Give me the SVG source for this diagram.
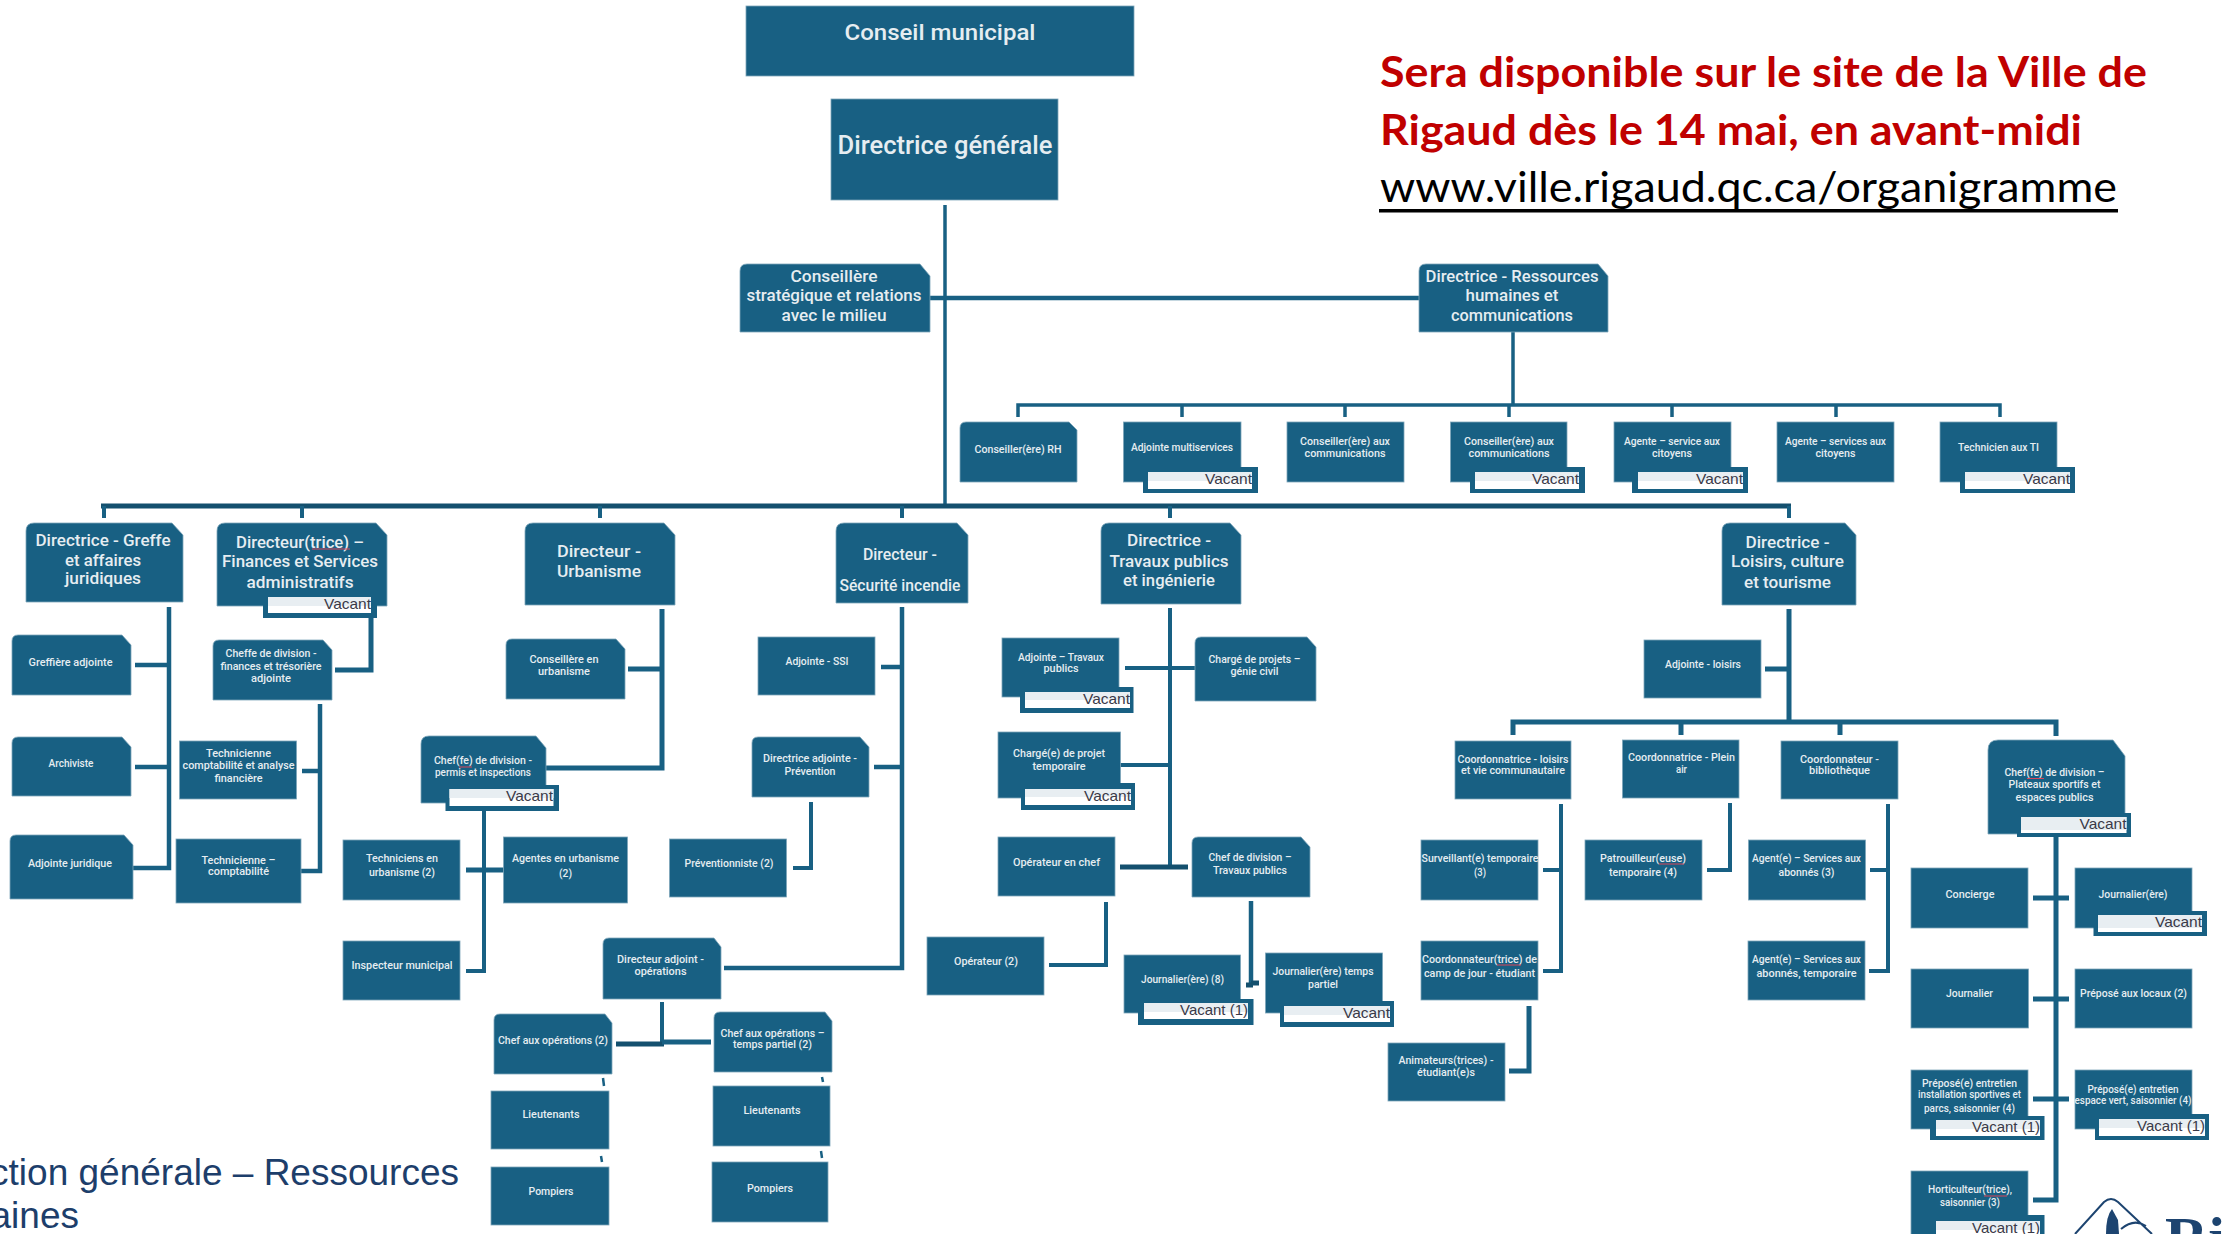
<svg xmlns="http://www.w3.org/2000/svg" width="2224" height="1234" viewBox="0 0 2224 1234">
<style>
.n{fill:#186083;stroke:#7ea6ba;stroke-width:.8}
.b{fill:#186083}
.w{fill:#fff}
.p{fill:#e8eef2}
.c{fill:none;stroke:#186083;stroke-width:5}
.d{fill:none;stroke:#14506e;stroke-width:5}
.f{fill:none;stroke:#186083;stroke-width:3.5}
.q{fill:none;stroke:#d8455a;stroke-width:1}
text{font-family:"Roboto","Liberation Sans",sans-serif;text-anchor:middle;fill:#e6edf1;font-weight:500}
.s{font-size:11px}
.m{font-size:17px}
.l{font-size:22px}
.x{font-size:25px}
.v{font-family:"Liberation Sans",Arial,sans-serif;font-size:15px;font-weight:400;fill:#3a3a48;text-anchor:end}
.r{font-family:"Lato","Open Sans",sans-serif;font-size:42px;font-weight:700;fill:#c00000;text-anchor:start}
.u{font-family:"Lato","Open Sans",sans-serif;font-size:42px;font-weight:400;fill:#000;text-anchor:start}
.g{font-family:"Liberation Sans",Arial,sans-serif;font-size:37px;font-weight:400;fill:#1d3e6b;text-anchor:end}
.o{fill:none;stroke:#1d4470;stroke-width:2}
</style>
<rect width="2224" height="1234" fill="#fff"/>

<g id="connectors">
<path class="f" d="M945 205V506"/>
<path class="c" d="M930 298H1419" style="stroke-width:4.5"/>
<path class="f" d="M1513 332V405"/>
<path class="f" d="M1018 417V405H2000V417M1182 405V417M1345 405V417M1509 405V417M1672 405V417M1836 405V417"/>
<path class="d" d="M101 506H1791"/>
<path class="c" d="M104 506V518M302 506V518M600 506V518M902 506V518M1170 506V518M1789 506V518" style="stroke-width:4"/>
<path class="c" d="M169 607V868H133M135 665H169M135 767H169" style="stroke-width:4.5"/>
<path class="c" d="M371 618V670H335"/>
<path class="c" d="M320 704V871H301M302 771H320" style="stroke-width:4.5"/>
<path class="c" d="M662 609V768H546M628 669H662"/>
<path class="f" d="M484 811V971H466" style="stroke-width:4"/>
<path class="c" d="M466 870H504"/>
<path class="c" d="M902 607V968H724M881 667H902M874 767H902" style="stroke-width:4.5"/>
<path class="f" d="M811 802V868H793" style="stroke-width:4"/>
<path class="c" d="M1170 608V865M1125 668H1195M1120 765H1170" style="stroke-width:4"/>
<path class="d" d="M1120 867H1188"/>
<path class="c" d="M1106 902V965H1049" style="stroke-width:4"/>
<path class="c" d="M1251 901V983" style="stroke-width:4.5"/>
<path class="d" d="M1246 985H1253M1251 983H1259"/>
<path class="c" d="M1789 609V722M1765 669H1789" style="stroke-width:5"/>
<path class="c" d="M1513 735V722H2056V736M1681 722V735M1840 722V735"/>
<path class="c" d="M1561 804V971H1543M1543 870H1561" style="stroke-width:4"/>
<path class="c" d="M1730 803V870H1707" style="stroke-width:4"/>
<path class="c" d="M1888 804V971H1869M1870 870H1888" style="stroke-width:4"/>
<path class="c" d="M1529 1006V1071H1509"/>
<path class="c" d="M2056 837V1200H2033M2033 898H2069M2033 999H2069M2033 1099H2069"/>
<path class="c" d="M662 1002V1042" style="stroke-width:4"/>
<path class="d" d="M616 1044H664"/>
<path class="c" d="M662 1042H711"/>
<path class="c" d="M603 1078L604 1086M601 1156L602 1162M822 1077L823 1082M821 1151L822 1158" style="stroke-width:2.5"/>
</g>

<g id="conseil-municipal"><rect class="n" x="746" y="6" width="388" height="70"/><text class="l" x="940" y="39.5" textLength="191" lengthAdjust="spacingAndGlyphs">Conseil municipal</text></g>
<g id="directrice-generale"><rect class="n" x="831" y="99" width="227" height="101"/><text class="x" x="945" y="154" textLength="215" lengthAdjust="spacingAndGlyphs">Directrice générale</text></g>
<g id="conseillere-strategique"><path class="n" d="M740 332V271Q740 264 747 264H920L930 276V332Z"/>
<text class="m" x="834" y="281.5" textLength="87" lengthAdjust="spacingAndGlyphs">Conseillère</text>
<text class="m" x="834" y="300.5" textLength="175" lengthAdjust="spacingAndGlyphs">stratégique et relations</text>
<text class="m" x="834" y="320.5" textLength="105" lengthAdjust="spacingAndGlyphs">avec le milieu</text></g>
<g id="directrice-rh"><path class="n" d="M1419 332V271Q1419 264 1426 264H1598L1608 276V332Z"/>
<text class="m" x="1512" y="281.5" textLength="173" lengthAdjust="spacingAndGlyphs">Directrice - Ressources</text>
<text class="m" x="1512" y="300.5" textLength="93" lengthAdjust="spacingAndGlyphs">humaines et</text>
<text class="m" x="1512" y="320.5" textLength="122" lengthAdjust="spacingAndGlyphs">communications</text></g>

<g id="conseiller-rh"><path class="n" d="M960 482V428Q960 422 966 422H1069L1077 430V482Z"/><text class="s" x="1018" y="452.5" textLength="87" lengthAdjust="spacingAndGlyphs">Conseiller(ère) RH</text></g>
<g id="adjointe-multiservices"><rect class="n" x="1123.5" y="422" width="117.5" height="60"/><text class="s" x="1182" y="451" textLength="102" lengthAdjust="spacingAndGlyphs">Adjointe multiservices</text>
<rect class="b" x="1143" y="467" width="115" height="26"/><rect class="w" x="1148" y="472" width="104" height="17"/><rect class="p" x="1148" y="472" width="104" height="9"/><text class="v" x="1252" y="484" textLength="47" lengthAdjust="spacingAndGlyphs">Vacant</text></g>
<g id="conseiller-comm-1"><rect class="n" x="1287" y="422" width="117" height="60"/><text class="s" x="1345" y="445" textLength="90" lengthAdjust="spacingAndGlyphs">Conseiller(ère) aux</text><text class="s" x="1345" y="456.5" textLength="81" lengthAdjust="spacingAndGlyphs">communications</text></g>
<g id="conseiller-comm-2"><rect class="n" x="1450.5" y="422" width="116.5" height="60"/><text class="s" x="1509" y="445" textLength="90" lengthAdjust="spacingAndGlyphs">Conseiller(ère) aux</text><text class="s" x="1509" y="456.5" textLength="81" lengthAdjust="spacingAndGlyphs">communications</text>
<rect class="b" x="1470" y="467" width="115" height="26"/><rect class="w" x="1475" y="472" width="104" height="17"/><rect class="p" x="1475" y="472" width="104" height="9"/><text class="v" x="1579" y="484" textLength="47" lengthAdjust="spacingAndGlyphs">Vacant</text></g>
<g id="agente-service"><rect class="n" x="1614" y="422" width="117" height="60"/><text class="s" x="1672" y="445" textLength="96" lengthAdjust="spacingAndGlyphs">Agente – service aux</text><text class="s" x="1672" y="456.5" textLength="40" lengthAdjust="spacingAndGlyphs">citoyens</text>
<rect class="b" x="1632" y="467" width="116" height="26"/><rect class="w" x="1638" y="472" width="105" height="17"/><rect class="p" x="1638" y="472" width="105" height="9"/><text class="v" x="1743" y="484" textLength="47" lengthAdjust="spacingAndGlyphs">Vacant</text></g>
<g id="agente-services"><rect class="n" x="1777" y="422" width="117" height="60"/><text class="s" x="1835.5" y="445" textLength="101" lengthAdjust="spacingAndGlyphs">Agente – services aux</text><text class="s" x="1835.5" y="456.5" textLength="40" lengthAdjust="spacingAndGlyphs">citoyens</text></g>
<g id="technicien-ti"><rect class="n" x="1940" y="422" width="117" height="60"/><text class="s" x="1998.5" y="451" textLength="81" lengthAdjust="spacingAndGlyphs">Technicien aux TI</text>
<rect class="b" x="1960" y="467" width="115" height="26"/><rect class="w" x="1965" y="472" width="105" height="17"/><rect class="p" x="1965" y="472" width="105" height="9"/><text class="v" x="2070" y="484" textLength="47" lengthAdjust="spacingAndGlyphs">Vacant</text></g>

<g id="directrice-greffe"><path class="n" d="M26 602V531Q26 523 34 523H172L183 535V602Z"/>
<text class="m" x="103" y="546" textLength="135" lengthAdjust="spacingAndGlyphs">Directrice - Greffe</text>
<text class="m" x="103" y="565.5" textLength="76" lengthAdjust="spacingAndGlyphs">et affaires</text>
<text class="m" x="103" y="584" textLength="76" lengthAdjust="spacingAndGlyphs">juridiques</text></g>
<g id="directeur-finances"><path class="n" d="M217 606V531Q217 523 225 523H376L387 535V606Z"/>
<text class="m" x="300" y="547.5" textLength="128" lengthAdjust="spacingAndGlyphs">Directeur(trice) –</text>
<text class="m" x="300" y="567" textLength="156" lengthAdjust="spacingAndGlyphs">Finances et Services</text>
<text class="m" x="300" y="587.5" textLength="107" lengthAdjust="spacingAndGlyphs">administratifs</text>
<path class="q" d="M312 549H350"/>
<rect class="b" x="263" y="597" width="114" height="21"/><rect class="w" x="268" y="597" width="103" height="16"/><rect class="p" x="268" y="597" width="103" height="9"/><text class="v" x="371" y="609" textLength="47" lengthAdjust="spacingAndGlyphs">Vacant</text></g>
<g id="directeur-urbanisme"><path class="n" d="M525 605V531Q525 523 533 523H664L675 535V605Z"/>
<text class="m" x="599" y="556.5" textLength="84" lengthAdjust="spacingAndGlyphs">Directeur  -</text>
<text class="m" x="599" y="577" textLength="84" lengthAdjust="spacingAndGlyphs">Urbanisme</text></g>
<g id="directeur-ssi"><path class="n" d="M836 603V531Q836 523 844 523H957L968 535V603Z"/>
<text class="m" x="900" y="560" textLength="74" lengthAdjust="spacingAndGlyphs">Directeur -</text>
<text class="m" x="900" y="590.5" textLength="121" lengthAdjust="spacingAndGlyphs">Sécurité incendie</text></g>
<g id="directrice-travaux"><path class="n" d="M1101 604V531Q1101 523 1109 523H1230L1241 535V604Z"/>
<text class="m" x="1169" y="546" textLength="84" lengthAdjust="spacingAndGlyphs">Directrice -</text>
<text class="m" x="1169" y="567" textLength="119" lengthAdjust="spacingAndGlyphs">Travaux publics</text>
<text class="m" x="1169" y="586" textLength="92" lengthAdjust="spacingAndGlyphs">et ingénierie</text></g>
<g id="directrice-loisirs"><path class="n" d="M1722 605V531Q1722 523 1730 523H1845L1856 535V605Z"/>
<text class="m" x="1787.5" y="547.5" textLength="84" lengthAdjust="spacingAndGlyphs">Directrice -</text>
<text class="m" x="1787.5" y="567" textLength="113" lengthAdjust="spacingAndGlyphs">Loisirs, culture</text>
<text class="m" x="1787.5" y="587.5" textLength="87" lengthAdjust="spacingAndGlyphs">et tourisme</text></g>

<g id="greffiere-adjointe"><path class="n" d="M12 695V641Q12 635 18 635H122L131 645V695Z"/><text class="s" x="70.5" y="666" textLength="84" lengthAdjust="spacingAndGlyphs">Greffière adjointe</text></g>
<g id="archiviste"><path class="n" d="M12 796V743Q12 737 18 737H122L131 747V796Z"/><text class="s" x="71" y="767" textLength="45" lengthAdjust="spacingAndGlyphs">Archiviste</text></g>
<g id="adjointe-juridique"><path class="n" d="M10 899V841Q10 835 16 835H124L133 845V899Z"/><text class="s" x="70" y="866.5" textLength="84" lengthAdjust="spacingAndGlyphs">Adjointe juridique</text></g>
<g id="cheffe-finances"><path class="n" d="M213 700V646Q213 640 219 640H323L332 650V700Z"/>
<text class="s" x="271" y="657" textLength="91" lengthAdjust="spacingAndGlyphs">Cheffe de division -</text>
<text class="s" x="271" y="670" textLength="101" lengthAdjust="spacingAndGlyphs">finances et trésorière</text>
<text class="s" x="271" y="682" textLength="40" lengthAdjust="spacingAndGlyphs">adjointe</text></g>
<g id="technicienne-analyse"><rect class="n" x="179.5" y="741" width="117" height="58"/>
<text class="s" x="238.5" y="757" textLength="65" lengthAdjust="spacingAndGlyphs">Technicienne</text>
<text class="s" x="238.5" y="769" textLength="112" lengthAdjust="spacingAndGlyphs">comptabilité et analyse</text>
<text class="s" x="238.5" y="781.5" textLength="48" lengthAdjust="spacingAndGlyphs">financière</text></g>
<g id="technicienne-comptabilite"><rect class="n" x="176" y="839" width="125" height="64"/>
<text class="s" x="238.5" y="863.5" textLength="74" lengthAdjust="spacingAndGlyphs">Technicienne –</text>
<text class="s" x="238.5" y="875" textLength="61" lengthAdjust="spacingAndGlyphs">comptabilité</text></g>
<g id="conseillere-urbanisme"><path class="n" d="M506 699V645Q506 639 512 639H616L625 649V699Z"/>
<text class="s" x="564" y="663" textLength="69" lengthAdjust="spacingAndGlyphs">Conseillère en</text>
<text class="s" x="564" y="675" textLength="52" lengthAdjust="spacingAndGlyphs">urbanisme</text></g>
<g id="chef-permis"><path class="n" d="M421 803V744Q421 736 429 736H536L546 748V803Z"/>
<text class="s" x="483" y="764" textLength="98" lengthAdjust="spacingAndGlyphs">Chef(fe) de division -</text>
<text class="s" x="483" y="776" textLength="96" lengthAdjust="spacingAndGlyphs">permis et inspections</text>
<path class="q" d="M459 767H472"/>
<rect class="b" x="445.5" y="785" width="113.5" height="26"/><rect class="w" x="449.5" y="789" width="104" height="17"/><rect class="p" x="449.5" y="789" width="104" height="9"/><text class="v" x="553" y="801" textLength="47" lengthAdjust="spacingAndGlyphs">Vacant</text></g>
<g id="techniciens-urbanisme"><rect class="n" x="343" y="840" width="117" height="60"/>
<text class="s" x="402" y="862" textLength="72" lengthAdjust="spacingAndGlyphs">Techniciens en</text>
<text class="s" x="402" y="875.5" textLength="66" lengthAdjust="spacingAndGlyphs">urbanisme (2)</text></g>
<g id="agentes-urbanisme"><rect class="n" x="503.5" y="837" width="124" height="66"/>
<text class="s" x="565.5" y="862" textLength="107" lengthAdjust="spacingAndGlyphs">Agentes en urbanisme</text>
<text class="s" x="565.5" y="876.5" textLength="13" lengthAdjust="spacingAndGlyphs">(2)</text></g>
<g id="inspecteur-municipal"><rect class="n" x="343" y="941" width="117" height="59"/><text class="s" x="402" y="969" textLength="101" lengthAdjust="spacingAndGlyphs">Inspecteur municipal</text></g>

<g id="adjointe-ssi"><rect class="n" x="758" y="637" width="117" height="58"/><text class="s" x="817" y="665" textLength="63" lengthAdjust="spacingAndGlyphs">Adjointe - SSI</text></g>
<g id="directrice-prevention"><path class="n" d="M752 797V743Q752 737 758 737H860L869 747V797Z"/>
<text class="s" x="810" y="761.5" textLength="94" lengthAdjust="spacingAndGlyphs">Directrice adjointe -</text>
<text class="s" x="810" y="774.5" textLength="51" lengthAdjust="spacingAndGlyphs">Prévention</text></g>
<g id="preventionniste"><rect class="n" x="669.5" y="839" width="117" height="58"/><text class="s" x="729" y="866.5" textLength="89" lengthAdjust="spacingAndGlyphs">Préventionniste (2)</text></g>
<g id="directeur-operations"><path class="n" d="M603 999V944Q603 938 609 938H714L721 947V999Z"/>
<text class="s" x="660.5" y="963" textLength="87" lengthAdjust="spacingAndGlyphs">Directeur adjoint -</text>
<text class="s" x="660.5" y="975" textLength="52" lengthAdjust="spacingAndGlyphs">opérations</text></g>
<g id="chef-operations"><path class="n" d="M494 1074V1020Q494 1014 500 1014H605L612 1023V1074Z"/><text class="s" x="553" y="1044" textLength="110" lengthAdjust="spacingAndGlyphs">Chef aux opérations (2)</text></g>
<g id="chef-operations-temps"><path class="n" d="M714 1072V1018Q714 1012 720 1012H825L832 1021V1072Z"/>
<text class="s" x="772.5" y="1036.5" textLength="104" lengthAdjust="spacingAndGlyphs">Chef aux opérations –</text>
<text class="s" x="772.5" y="1048" textLength="79" lengthAdjust="spacingAndGlyphs">temps partiel (2)</text></g>
<g id="lieutenants-1"><rect class="n" x="491" y="1091" width="118" height="58"/><text class="s" x="551" y="1118" textLength="57" lengthAdjust="spacingAndGlyphs">Lieutenants</text></g>
<g id="lieutenants-2"><rect class="n" x="713" y="1086" width="117" height="60"/><text class="s" x="772" y="1114" textLength="57" lengthAdjust="spacingAndGlyphs">Lieutenants</text></g>
<g id="pompiers-1"><rect class="n" x="491" y="1167" width="118" height="58"/><text class="s" x="551" y="1194.5" textLength="45" lengthAdjust="spacingAndGlyphs">Pompiers</text></g>
<g id="pompiers-2"><rect class="n" x="712" y="1162" width="116" height="60"/><text class="s" x="770" y="1191.5" textLength="46" lengthAdjust="spacingAndGlyphs">Pompiers</text></g>

<g id="adjointe-travaux"><rect class="n" x="1002" y="638" width="117" height="59"/>
<text class="s" x="1061" y="660.5" textLength="86" lengthAdjust="spacingAndGlyphs">Adjointe – Travaux</text>
<text class="s" x="1061" y="672" textLength="35" lengthAdjust="spacingAndGlyphs">publics</text>
<rect class="b" x="1020" y="687" width="113.5" height="26"/><rect class="w" x="1025" y="692" width="105" height="16"/><rect class="p" x="1025" y="692" width="105" height="8"/><text class="v" x="1130" y="704" textLength="47" lengthAdjust="spacingAndGlyphs">Vacant</text></g>
<g id="charge-genie"><path class="n" d="M1195 701V643Q1195 637 1201 637H1307L1316 647V701Z"/>
<text class="s" x="1254.5" y="663" textLength="92" lengthAdjust="spacingAndGlyphs">Chargé de projets –</text>
<text class="s" x="1254.5" y="675" textLength="48" lengthAdjust="spacingAndGlyphs">génie civil</text></g>
<g id="charge-temporaire"><rect class="n" x="998" y="732" width="122.5" height="66"/>
<text class="s" x="1059" y="757" textLength="92" lengthAdjust="spacingAndGlyphs">Chargé(e) de projet</text>
<text class="s" x="1059" y="770" textLength="53" lengthAdjust="spacingAndGlyphs">temporaire</text>
<rect class="b" x="1021" y="783" width="114" height="27"/><rect class="w" x="1025" y="789" width="106" height="16"/><rect class="p" x="1025" y="789" width="106" height="8"/><text class="v" x="1131" y="801" textLength="47" lengthAdjust="spacingAndGlyphs">Vacant</text></g>
<g id="operateur-chef"><rect class="n" x="998" y="837" width="117" height="59"/><text class="s" x="1056.5" y="865.5" textLength="87" lengthAdjust="spacingAndGlyphs">Opérateur en chef</text></g>
<g id="chef-travaux"><path class="n" d="M1192 897V843Q1192 837 1198 837H1301L1310 847V897Z"/>
<text class="s" x="1250" y="861" textLength="83" lengthAdjust="spacingAndGlyphs">Chef de division –</text>
<text class="s" x="1250" y="874" textLength="74" lengthAdjust="spacingAndGlyphs">Travaux publics</text></g>
<g id="operateur"><rect class="n" x="927" y="937" width="117" height="58"/><text class="s" x="986" y="965" textLength="64" lengthAdjust="spacingAndGlyphs">Opérateur (2)</text></g>
<g id="journalier-8"><rect class="n" x="1124" y="955" width="116.5" height="58"/><text class="s" x="1182.5" y="982.5" textLength="83" lengthAdjust="spacingAndGlyphs">Journalier(ère) (8)</text>
<rect class="b" x="1138" y="999" width="115.5" height="26"/><rect class="w" x="1144" y="1003" width="104" height="16"/><rect class="p" x="1144" y="1003" width="104" height="9"/><text class="v" x="1248" y="1015" textLength="68" lengthAdjust="spacingAndGlyphs">Vacant (1)</text></g>
<g id="journalier-partiel"><rect class="n" x="1265.5" y="953" width="117" height="60"/>
<text class="s" x="1323" y="975" textLength="101" lengthAdjust="spacingAndGlyphs">Journalier(ère) temps</text>
<text class="s" x="1323" y="988" textLength="30" lengthAdjust="spacingAndGlyphs">partiel</text>
<rect class="b" x="1280" y="1001" width="114" height="26"/><rect class="w" x="1284" y="1006" width="106" height="16"/><rect class="p" x="1284" y="1006" width="106" height="9"/><text class="v" x="1390" y="1018" textLength="47" lengthAdjust="spacingAndGlyphs">Vacant</text></g>

<g id="adjointe-loisirs"><rect class="n" x="1644" y="640" width="117" height="58"/><text class="s" x="1703" y="667.5" textLength="76" lengthAdjust="spacingAndGlyphs">Adjointe - loisirs</text></g>
<g id="coord-loisirs"><rect class="n" x="1455" y="741" width="116" height="58"/>
<text class="s" x="1513" y="762.5" textLength="111" lengthAdjust="spacingAndGlyphs">Coordonnatrice - loisirs</text>
<text class="s" x="1513" y="774" textLength="104" lengthAdjust="spacingAndGlyphs">et vie communautaire</text></g>
<g id="coord-plein-air"><rect class="n" x="1622.5" y="740" width="116.5" height="58"/>
<text class="s" x="1681.5" y="761" textLength="107" lengthAdjust="spacingAndGlyphs">Coordonnatrice - Plein</text>
<text class="s" x="1681.5" y="773" textLength="11" lengthAdjust="spacingAndGlyphs">air</text></g>
<g id="coord-bibliotheque"><rect class="n" x="1781" y="741" width="117" height="58"/>
<text class="s" x="1839.5" y="762.5" textLength="79" lengthAdjust="spacingAndGlyphs">Coordonnateur -</text>
<text class="s" x="1839.5" y="774" textLength="61" lengthAdjust="spacingAndGlyphs">bibliothèque</text></g>
<g id="chef-plateaux"><path class="n" d="M1988 834V750Q1988 740 1998 740H2113L2125 756V834Z"/>
<text class="s" x="2054.5" y="776" textLength="100" lengthAdjust="spacingAndGlyphs">Chef(fe) de division –</text>
<text class="s" x="2054.5" y="787.5" textLength="92" lengthAdjust="spacingAndGlyphs">Plateaux sportifs et</text>
<text class="s" x="2054.5" y="801" textLength="78" lengthAdjust="spacingAndGlyphs">espaces publics</text>
<path class="q" d="M2027 778.5H2044"/>
<rect class="b" x="2017" y="813" width="114" height="24"/><rect class="w" x="2021" y="817" width="105.5" height="16"/><rect class="p" x="2021" y="817" width="105.5" height="13"/><text class="v" x="2126.5" y="829" textLength="47" lengthAdjust="spacingAndGlyphs">Vacant</text></g>
<g id="surveillant"><rect class="n" x="1421" y="840" width="117" height="60"/>
<text class="s" x="1480" y="862" textLength="117" lengthAdjust="spacingAndGlyphs">Surveillant(e) temporaire</text>
<text class="s" x="1480" y="875.5" textLength="12" lengthAdjust="spacingAndGlyphs">(3)</text></g>
<g id="patrouilleur"><rect class="n" x="1585" y="840" width="117" height="60"/>
<text class="s" x="1643" y="862" textLength="86" lengthAdjust="spacingAndGlyphs">Patrouilleur(euse)</text>
<text class="s" x="1643" y="875.5" textLength="68" lengthAdjust="spacingAndGlyphs">temporaire (4)</text>
<path class="q" d="M1659 864H1684"/></g>
<g id="agent-abonnes-3"><rect class="n" x="1748.5" y="840" width="117" height="60"/>
<text class="s" x="1806.5" y="862" textLength="109" lengthAdjust="spacingAndGlyphs">Agent(e) – Services aux</text>
<text class="s" x="1806.5" y="875.5" textLength="56" lengthAdjust="spacingAndGlyphs">abonnés (3)</text></g>
<g id="coord-camp"><rect class="n" x="1421" y="941" width="117" height="59"/>
<text class="s" x="1479.5" y="963" textLength="115" lengthAdjust="spacingAndGlyphs">Coordonnateur(trice) de</text>
<text class="s" x="1479.5" y="976.5" textLength="111" lengthAdjust="spacingAndGlyphs">camp de jour - étudiant</text>
<path class="q" d="M1497 965H1521"/></g>
<g id="animateurs"><rect class="n" x="1388" y="1043" width="117" height="58"/>
<text class="s" x="1446" y="1064" textLength="95" lengthAdjust="spacingAndGlyphs">Animateurs(trices) -</text>
<text class="s" x="1446" y="1076" textLength="58" lengthAdjust="spacingAndGlyphs">étudiant(e)s</text></g>
<g id="agent-abonnes-temp"><rect class="n" x="1748" y="941" width="117" height="59"/>
<text class="s" x="1806.5" y="963" textLength="109" lengthAdjust="spacingAndGlyphs">Agent(e) – Services aux</text>
<text class="s" x="1806.5" y="976.5" textLength="100" lengthAdjust="spacingAndGlyphs">abonnés, temporaire</text></g>
<g id="concierge"><rect class="n" x="1911" y="868" width="117" height="60"/><text class="s" x="1970" y="897.5" textLength="49" lengthAdjust="spacingAndGlyphs">Concierge</text></g>
<g id="journaliere"><rect class="n" x="2075" y="868" width="117" height="60"/><text class="s" x="2133" y="897.5" textLength="69" lengthAdjust="spacingAndGlyphs">Journalier(ère)</text>
<rect class="b" x="2093.5" y="911" width="113.5" height="25"/><rect class="w" x="2098" y="915" width="104" height="17"/><rect class="p" x="2098" y="915" width="104" height="13"/><text class="v" x="2202" y="927" textLength="47" lengthAdjust="spacingAndGlyphs">Vacant</text></g>
<g id="journalier"><rect class="n" x="1911" y="969" width="117.5" height="59"/><text class="s" x="1969.5" y="997" textLength="47" lengthAdjust="spacingAndGlyphs">Journalier</text></g>
<g id="prepose-locaux"><rect class="n" x="2075" y="969" width="117" height="59"/><text class="s" x="2133.5" y="997" textLength="107" lengthAdjust="spacingAndGlyphs">Préposé aux locaux (2)</text></g>
<g id="prepose-installation"><rect class="n" x="1911" y="1070" width="117" height="59"/>
<text class="s" x="1969.5" y="1086.5" textLength="95" lengthAdjust="spacingAndGlyphs">Préposé(e) entretien</text>
<text class="s" x="1969.5" y="1098" textLength="103" lengthAdjust="spacingAndGlyphs">installation sportives et</text>
<text class="s" x="1969.5" y="1111.5" textLength="91" lengthAdjust="spacingAndGlyphs">parcs, saisonnier (4)</text>
<rect class="b" x="1930" y="1116" width="114.5" height="24"/><rect class="w" x="1936" y="1120" width="104" height="16"/><rect class="p" x="1936" y="1120" width="104" height="9"/><text class="v" x="2040" y="1132" textLength="68" lengthAdjust="spacingAndGlyphs">Vacant (1)</text></g>
<g id="prepose-espace-vert"><rect class="n" x="2075" y="1070" width="117" height="59"/>
<text class="s" x="2133" y="1092.5" textLength="91" lengthAdjust="spacingAndGlyphs">Préposé(e) entretien</text>
<text class="s" x="2133" y="1104" textLength="117" lengthAdjust="spacingAndGlyphs">espace vert, saisonnier  (4)</text>
<rect class="b" x="2095" y="1114" width="114" height="26"/><rect class="w" x="2099" y="1119" width="106" height="17"/><rect class="p" x="2099" y="1119" width="106" height="9"/><text class="v" x="2205" y="1131" textLength="68" lengthAdjust="spacingAndGlyphs">Vacant (1)</text></g>
<g id="horticulteur"><rect class="n" x="1911" y="1171" width="117" height="70"/>
<text class="s" x="1970" y="1193" textLength="84" lengthAdjust="spacingAndGlyphs">Horticulteur(trice),</text>
<text class="s" x="1970" y="1205.5" textLength="60" lengthAdjust="spacingAndGlyphs">saisonnier (3)</text>
<path class="q" d="M1984 1196H2007"/>
<rect class="b" x="1930" y="1215" width="114.5" height="26"/><rect class="w" x="1936" y="1221" width="104" height="16"/><rect class="p" x="1936" y="1221" width="104" height="9"/><text class="v" x="2040" y="1233" textLength="68" lengthAdjust="spacingAndGlyphs">Vacant (1)</text></g>

<g id="annonce">
<text class="r" x="1380" y="87" textLength="767" lengthAdjust="spacingAndGlyphs">Sera disponible sur le site de la Ville de</text>
<text class="r" x="1380" y="145" textLength="702" lengthAdjust="spacingAndGlyphs">Rigaud dès le 14 mai, en avant-midi</text>
<text class="u" x="1380" y="202" textLength="737" lengthAdjust="spacingAndGlyphs">www.ville.rigaud.qc.ca/organigramme</text>
<rect x="1379" y="209" width="739" height="3.5" fill="#000"/>
</g>
<g id="titre-page">
<text class="g" x="459" y="1185">ction générale – Ressources</text>
<text class="g" x="79" y="1228">aines</text>
</g>
<g id="logo">
<path class="o" d="M2075 1234L2104 1202Q2111 1196 2118 1202L2152 1234M2121 1229Q2134 1218 2146 1226"/>
<path d="M2112 1209Q2106 1216 2106 1234H2119L2118 1220Z" fill="#1d4470"/>
<text x="2165" y="1258" style="font-family:'Liberation Serif',serif;font-size:60px;font-weight:700;fill:#1d4470;text-anchor:start">Ri</text>
</g>
</svg>
